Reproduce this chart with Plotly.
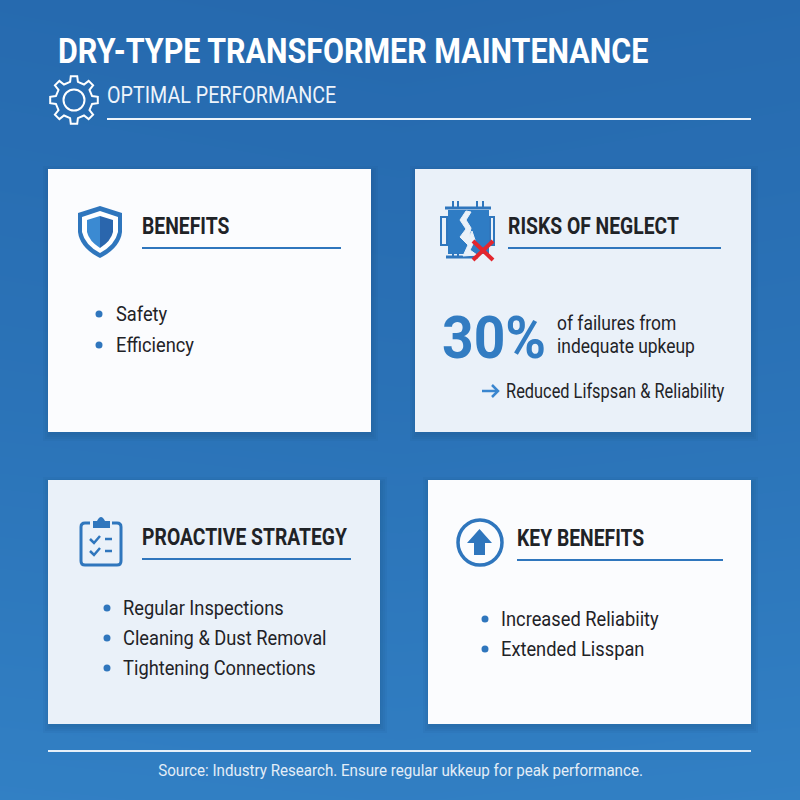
import plotly.graph_objects as go
import json
import math

# Text content
title = "DRY-TYPE TRANSFORMER MAINTENANCE"
subtitle = "OPTIMAL PERFORMANCE"
source = "Source: Industry Research. Ensure regular ukkeup for peak performance."

card_titles = ["BENEFITS", "RISKS OF NEGLECT", "PROACTIVE STRATEGY", "KEY BENEFITS"]
card_boxes = [(48, 169, 371, 432), (415, 169, 751, 432), (48, 480, 380, 724), (428, 480, 751, 724)]
card_fills = ["#fbfcfe", "#eaf1f9", "#eaf1f9", "#fbfcfe"]
head_x = [142, 508, 142, 517]
head_y = [226, 226, 537, 538]
rule_end = [341, 721, 351, 723]
rule_y = [248, 248, 559, 560]

bullets_benefits = ["Safety", "Efficiency"]
bullets_strategy = ["Regular Inspections", "Cleaning & Dust Removal", "Tightening Connections"]
bullets_key = ["Increased Reliabiity", "Extended Lisspan"]

stat_value = "30%"
stat_lines = ["of failures from", "indequate upkeup"]
stat_note = "Reduced Lifspsan & Reliability"

# Background colours, rough read of the corners and middle
bg_rows = [[0.08, 0.02, 0.08], [0.40, 0.35, 0.40], [0.85, 0.80, 0.85]]

BLUE = "#2f76bd"
DARK = "#1f2327"
FONT = "Roboto"

fig = go.Figure()
squeeze = []  # horizontal scale of each text, in drawing order

fig.add_trace(go.Heatmap(
    x=[0, 400, 800], y=[0, 400, 800], z=bg_rows,
    zsmooth="best", showscale=False, hoverinfo="skip", zmin=0, zmax=1,
    colorscale=[[0, "#2568ad"], [1, "#3484c8"]],
))

def text(x, y, s, size, color=DARK, bold=False, scale=0.87):
    # annotations pad their text by 2px
    fig.add_annotation(
        x=x - 2, y=y, text=s, showarrow=False,
        xanchor="left", yanchor="middle", xref="x", yref="y",
        font=dict(family=FONT, size=size, color=color, weight=700 if bold else 400),
    )
    squeeze.append(scale)

def line(x0, y0, x1, y1, color, width):
    fig.add_shape(type="line", x0=x0, y0=y0, x1=x1, y1=y1, line=dict(color=color, width=width))

def path(d, fill="rgba(0,0,0,0)", color=BLUE, width=0):
    fig.add_shape(type="path", path=d, fillcolor=fill,
                  line=dict(color=color, width=width))

def dot(x, y, r=3.5):
    fig.add_shape(type="circle", x0=x - r, y0=y - r, x1=x + r, y1=y + r,
                  fillcolor=BLUE, line=dict(width=0))

def gear(cx, cy, r_out, r_in, teeth=8):
    pts = []
    step = 2 * math.pi / teeth
    for i in range(teeth):
        a = i * step - math.pi / 2
        for da, r in [(-0.27, r_in), (-0.17, r_out), (0.17, r_out), (0.27, r_in)]:
            pts.append((cx + r * math.cos(a + da * step), cy + r * math.sin(a + da * step)))
    return "M " + " L ".join(f"{x:.1f},{y:.1f}" for x, y in pts) + " Z"

# Cards with a soft shadow
for box, fill in zip(card_boxes, card_fills):
    x0, y0, x1, y1 = box
    for grow in (6, 4, 2, 0):
        fig.add_shape(type="rect", x0=x0 - grow + 1, y0=y0 - grow + 3, x1=x1 + grow + 1, y1=y1 + grow + 3,
                      fillcolor="rgba(15,50,100,0.05)", line=dict(width=0))
    fig.add_shape(type="rect", x0=x0, y0=y0, x1=x1, y1=y1, fillcolor=fill, line=dict(width=0))

# Header
text(58, 51, title, 35, "white", True)
text(107, 95, subtitle, 24, "#eef4fb", scale=0.82)
line(107, 119, 751, 119, "#eef4fb", 2)
path(gear(74, 100, 24, 18.5), color="white", width=2)
fig.add_shape(type="circle", x0=63.5, y0=89.5, x1=84.5, y1=110.5, line=dict(color="white", width=2))

# Card headings
for t, x, y, xe, ry in zip(card_titles, head_x, head_y, rule_end, rule_y):
    text(x, y, t, 23, DARK, True, scale=0.84)
    line(x, ry, xe, ry, BLUE, 2)

# Shield icon
path("M 100,206 L 122,213 L 122,232 Q 120,248 100,258 Q 80,248 78,232 L 78,213 Z", fill=BLUE)
path("M 100,211 L 118,217 L 118,232 Q 115,245 100,253 Q 85,245 82,232 L 82,217 Z", fill="white")
path("M 100,216 L 87,220 L 87,232 Q 89,241 100,248 Z", fill="#3b8ad2")
path("M 100,216 L 113,220 L 113,232 Q 111,241 100,248 Z", fill="#2a66ad")

# Transformer icon
path("M 448,210 L 489,210 L 489,254 L 448,254 Z", fill="#2f7cc4")
path("M 441,217 L 447,217 L 447,245 L 441,245 Z", color=BLUE, width=2)
path("M 490,217 L 494,217 L 494,245 L 490,245 Z", color=BLUE, width=2)
line(445, 208, 491, 208, BLUE, 3)
line(446, 257, 478, 257, BLUE, 3)
for pin in (453, 458, 477, 483):
    line(pin, 201, pin, 207, BLUE, 2)
for foot in (453, 458):
    line(foot, 253, foot, 257, BLUE, 2)
path("M 466,211 L 460,220 L 466,229 L 460,237 L 468,245 L 463,256 L 477,255 L 470,250 L 475,240 L 472,231 "
     "L 469,237 L 471,228 L 466,220 L 471,212 Z", fill="#eaf1f9", color="#eaf1f9", width=1)
line(473, 241, 493, 260, "#e3262e", 4)
line(493, 241, 473, 260, "#e3262e", 4)

# Clipboard icon
path("M 90,523 L 85,523 Q 81,523 81,527 L 81,561 Q 81,565 85,565 L 117,565 Q 121,565 121,561 L 121,527 Q 121,523 117,523 L 112,523",
     color=BLUE, width=3)
path("M 93,528 L 93,521 L 97,521 Q 101,513 105,521 L 110,521 L 110,528 Z", fill=BLUE)
path("M 90,539 L 94,543 L 100,536", color=BLUE, width=2.5)
line(105, 539, 112, 539, BLUE, 2.5)
path("M 90,551 L 94,555 L 100,548", color=BLUE, width=2.5)
line(105, 551, 112, 551, BLUE, 2.5)

# Up arrow icon
fig.add_shape(type="circle", x0=458, y0=520, x1=502, y1=565, line=dict(color=BLUE, width=3.5))
path("M 479.5,529 L 492,543 L 485,543 L 485,555 L 474,555 L 474,543 L 467,543 Z", fill=BLUE)

# Bullet lists
for i, s in enumerate(bullets_benefits):
    dot(99, 314 + i * 31)
    text(116, 314 + i * 31, s, 21)
for i, s in enumerate(bullets_strategy):
    dot(107, 608 + i * 30)
    text(123, 608 + i * 30, s, 21)
for i, s in enumerate(bullets_key):
    dot(485, 619 + i * 30)
    text(501, 619 + i * 30, s, 21)

# Risk card stat
text(442, 337, stat_value, 60, "#327cc2", True, scale=0.92)
text(557, 323, stat_lines[0], 21, scale=0.83)
text(557, 346, stat_lines[1], 21, scale=0.83)
text(506, 391, stat_note, 19.5, scale=0.84)
line(482, 391, 497, 391, "#3a86cf", 2.5)
path("M 492,385 L 498,391 L 492,397", color="#3a86cf", width=2.5)

# Footer
line(48, 751, 751, 751, "#e6f0f9", 2)
text(158, 770, source, 17, "#e3edf7", scale=0.89)

# Roboto Condensed is not installed, so narrow the Roboto text from its left edge
condense = """
document.body.style.margin = '0';
var squeeze = %s;
document.querySelectorAll('.annotation-text').forEach(function (t, i) {
  var left = t.getBBox().x;
  t.setAttribute('transform', 'translate(' + left + ',0) scale(' + squeeze[i] + ',1) translate(' + (-left) + ',0)');
});
""" % json.dumps(squeeze)

fig.update_layout(
    width=800, height=800,
    margin=dict(l=0, r=0, t=0, b=0),
    xaxis=dict(range=[0, 800], visible=False),
    yaxis=dict(range=[800, 0], visible=False),
    showlegend=False,
    paper_bgcolor="#2a6fb5",
    plot_bgcolor="#2a6fb5",
)

fig.write_html("out.html", include_plotlyjs=True, config={"displayModeBar": False},
               post_script=condense)
